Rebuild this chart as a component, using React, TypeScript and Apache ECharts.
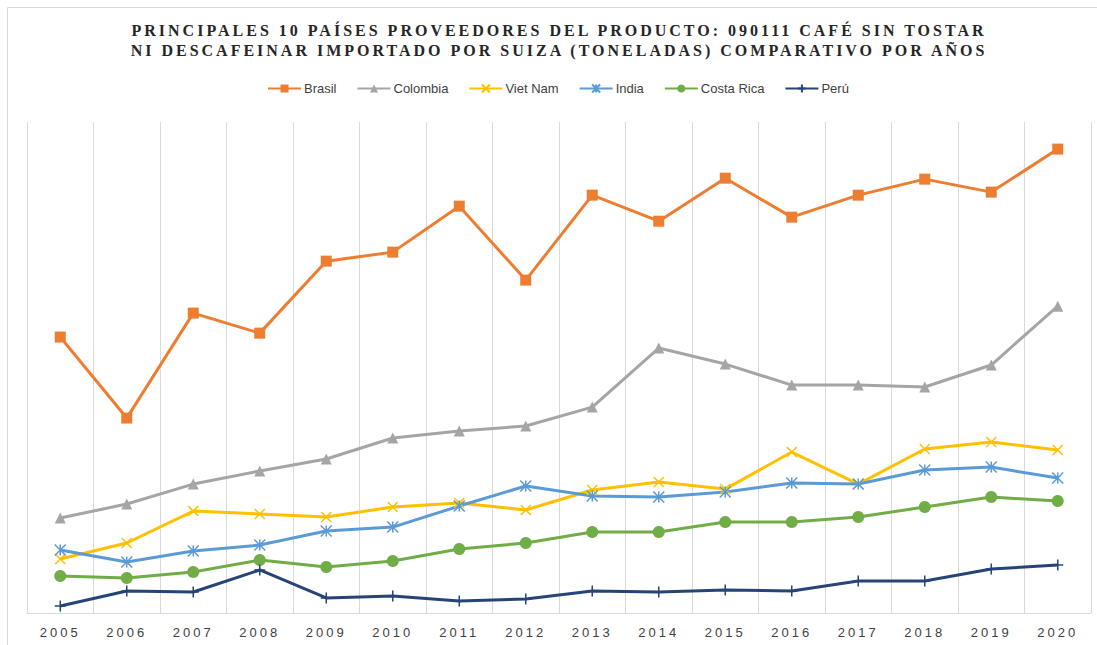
import React, { useEffect, useRef } from 'react';
import * as echarts from 'echarts';

const years = ['2005','2006','2007','2008','2009','2010','2011','2012','2013','2014','2015','2016','2017','2018','2019','2020'];
const brasil = [2810,1985,3054,2850,3583,3675,4143,3390,4255,3990,4428,4031,4255,4418,4286,4724];
const colombia = [967,1110,1313,1446,1568,1782,1853,1904,2097,2698,2535,2321,2321,2301,2525,3125];
const vietNam = [550,713,1038,1008,977,1079,1120,1049,1252,1334,1262,1639,1313,1670,1741,1659];
const india = [641,519,631,692,835,875,1089,1293,1191,1181,1232,1323,1313,1456,1486,1374];
const costaRica = [377,356,417,540,468,529,652,713,825,825,926,926,977,1079,1181,1140];
const peru = [71,224,214,438,153,173,122,143,224,214,234,224,326,326,448,489];

const titleLines = [
  'PRINCIPALES 10 PAÍSES PROVEEDORES DEL PRODUCTO: 090111 CAFÉ SIN TOSTAR',
  'NI DESCAFEINAR IMPORTADO POR SUIZA (TONELADAS) COMPARATIVO POR AÑOS',
];

const X_PATH = 'path://M0,0L10,10M10,0L0,10';
const STAR_PATH = 'path://M5,0L5,10M0,0L10,10M10,0L0,10';
const PLUS_PATH = 'path://M5,0L5,10M0,5L10,5';

export default function App() {
  const ref = useRef<HTMLDivElement>(null);
  useEffect(() => {
    const chart = echarts.init(ref.current!, null, { renderer: 'svg' });
    const mk = (name: string, data: number[], color: string, symbol: string, size: number, stroke: boolean) => ({
      name,
      type: 'line',
      data,
      symbol,
      symbolSize: size,
      showAllSymbol: true,
      lineStyle: { color, width: 3 },
      itemStyle: stroke
        ? { color, borderColor: color, borderWidth: 1.5 }
        : { color, borderWidth: 0 },
      emphasis: { disabled: true },
      z: 3,
    });
    const option: any = {
      animation: false,
      backgroundColor: '#ffffff',
      graphic: [
        {
          type: 'rect',
          shape: { x: 7.5, y: 7.5, width: 1100, height: 660 },
          style: { fill: 'none', stroke: '#d9d9d9', lineWidth: 1 },
          silent: true,
        },
        {
          type: 'text',
          x: 559,
          y: 30,
          style: {
            text: titleLines[0],
            fill: '#262626',
            font: 'bold 16px "Liberation Serif", "DejaVu Serif", serif',
            textAlign: 'center',
            textVerticalAlign: 'middle',
          },
        },
        {
          type: 'text',
          x: 559,
          y: 50,
          style: {
            text: titleLines[1],
            fill: '#262626',
            font: 'bold 16px "Liberation Serif", "DejaVu Serif", serif',
            textAlign: 'center',
            textVerticalAlign: 'middle',
          },
        },
      ],
      legend: {
        left: 262,
        top: 77,
        itemWidth: 33,
        itemHeight: 10,
        itemGap: 20,
        textStyle: { color: '#404040', fontSize: 13, fontFamily: '"Liberation Sans Narrow", "Liberation Sans", Arial, sans-serif', padding: [0, 0, 0, -2] },
        data: ['Brasil', 'Colombia', 'Viet Nam', 'India', 'Costa Rica', 'Perú'],
      },
      grid: { left: 27, right: 6, top: 122, bottom: 32, containLabel: false, outerBoundsMode: 'none' },
      xAxis: {
        type: 'category',
        data: years,
        boundaryGap: true,
        axisLine: { show: true, lineStyle: { color: '#d9d9d9', width: 1 } },
        axisTick: { show: false },
        splitLine: { show: true, lineStyle: { color: '#d9d9d9', width: 1 } },
        axisLabel: {
          color: '#404040',
          fontSize: 13,
          fontFamily: '"Liberation Sans", Arial, sans-serif',
          margin: 13,
          interval: 0,
        },
      },
      yAxis: {
        type: 'value',
        min: 0,
        max: 5000,
        show: false,
        splitLine: { show: false },
      },
      series: [
        mk('Brasil', brasil, '#ED7D31', 'rect', 11, false),
        mk('Colombia', colombia, '#A5A5A5', 'triangle', 11, false),
        mk('Viet Nam', vietNam, '#FFC000', X_PATH, 10, true),
        mk('India', india, '#5B9BD5', STAR_PATH, 11, true),
        mk('Costa Rica', costaRica, '#70AD47', 'circle', 12, false),
        mk('Perú', peru, '#264478', PLUS_PATH, 11, true),
      ],
    };
    chart.setOption(option);
    const apply = () => {
      if (!ref.current) return;
      ref.current.querySelectorAll('text').forEach((t) => {
        const s = (t.textContent || '').trim();
        if (titleLines.includes(s)) t.setAttribute('letter-spacing', '3');
        else if (years.includes(s)) t.setAttribute('letter-spacing', '3');
      });
    };
    apply();
    chart.on('finished', apply);
    return () => chart.dispose();
  }, []);
  return (
    <div
      ref={ref}
      style={{ position: 'absolute', left: 0, top: 0, width: 1097, height: 645, background: '#fff' }}
    />
  );
}
